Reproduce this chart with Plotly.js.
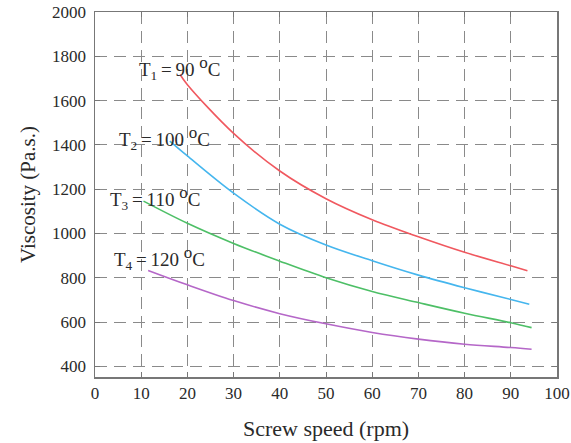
<!DOCTYPE html>
<html>
<head>
<meta charset="utf-8">
<script src="https://cdn.plot.ly/plotly-3.0.1.min.js"></script>
<style>html,body{margin:0;padding:0;background:#fff;}#chart{width:571px;height:443px;}</style>
</head>
<body>
<div id="chart"></div>
<script>
// Screw speed (rpm) and viscosity (Pa.s.)
const t1Speed = [18.4, 20, 30, 40, 50, 60, 70, 80, 90, 93.6];
const t1Visc  = [1718, 1672, 1452, 1282, 1157, 1062, 985, 915, 854, 832];
const t2Speed = [16.2, 20, 30, 40, 50, 60, 70, 80, 90, 94];
const t2Visc  = [1417, 1350, 1182, 1042, 948, 877, 812, 755, 702, 680];
const t3Speed = [10.5, 20, 30, 40, 50, 60, 70, 80, 90, 94.5];
const t3Visc  = [1146, 1046, 955, 875, 800, 738, 688, 640, 597, 575];
const t4Speed = [11.5, 20, 30, 40, 50, 60, 70, 80, 90, 94.5];
const t4Visc  = [833, 768, 697, 638, 592, 553, 523, 500, 485, 477];

const seriesNames = ['T1 = 90 °C', 'T2 = 100 °C', 'T3 = 110 °C', 'T4 = 120 °C'];
const subs = ['1', '2', '3', '4'];
const temps = ['90', '100', '110', '120'];
const xTicks = [0, 10, 20, 30, 40, 50, 60, 70, 80, 90, 100];
const yTicks = [400, 600, 800, 1000, 1200, 1400, 1600, 1800, 2000];

const colors = ['#f0585f', '#45b6ee', '#4dbf66', '#b567c8'];
const xs = [t1Speed, t2Speed, t3Speed, t4Speed];
const ys = [t1Visc, t2Visc, t3Visc, t4Visc];

const traces = xs.map((x, i) => ({
  x: x, y: ys[i], type: 'scatter', mode: 'lines', name: seriesNames[i],
  line: {color: colors[i], width: 1.6, shape: 'spline', smoothing: 1},
  showlegend: false, hoverinfo: 'skip'
}));

const SERIF = 'Liberation Serif';
// label anchor positions (data coords)
const labelPos = [[9.1, 1745], [4.8, 1430], [2.8, 1160], [3.7, 888]];
const annotations = subs.map((s, i) => ({
  text: 'T<sub>' + s + '</sub>\u2009=\u2009' + temps[i] + ' <sup><span style="font-size:17px">o</span></sup>C',
  x: labelPos[i][0], y: labelPos[i][1], xref: 'x', yref: 'y',
  xanchor: 'left', yanchor: 'middle', showarrow: false,
  font: {family: SERIF, size: 19, color: '#2a2a2a'}
}));

const font = {family: SERIF, size: 17, color: '#2a2a2a'};
const axisCommon = {
  showgrid: true, gridcolor: '#8a8a8a', gridwidth: 1, griddash: '12px,7px',
  showline: true, linecolor: '#777', linewidth: 1.5, mirror: 'ticks',
  ticks: 'inside', ticklen: 5, tickcolor: '#777', tickwidth: 1,
  zeroline: false, tickfont: font
};

const layout = {
  width: 571, height: 443,
  margin: {l: 95, r: 14, t: 12, b: 66},
  paper_bgcolor: '#fff', plot_bgcolor: '#fff',
  font: font,
  xaxis: Object.assign({}, axisCommon, {
    range: [0, 100], tickvals: xTicks, ticktext: xTicks.map(String),
    title: {text: 'Screw speed (rpm)', font: {family: SERIF, size: 22, color: '#2a2a2a'}, standoff: 18}
  }),
  yaxis: Object.assign({}, axisCommon, {
    range: [352, 2000], tickvals: yTicks, ticktext: yTicks.map(String),
    ticklabelstandoff: 4,
    title: {text: 'Viscosity (Pa.s.)', font: {family: SERIF, size: 21, color: '#2a2a2a'}, standoff: 10}
  }),
  annotations: annotations
};

Plotly.newPlot('chart', traces, layout, {displayModeBar: false, staticPlot: true});
</script>
</body>
</html>
